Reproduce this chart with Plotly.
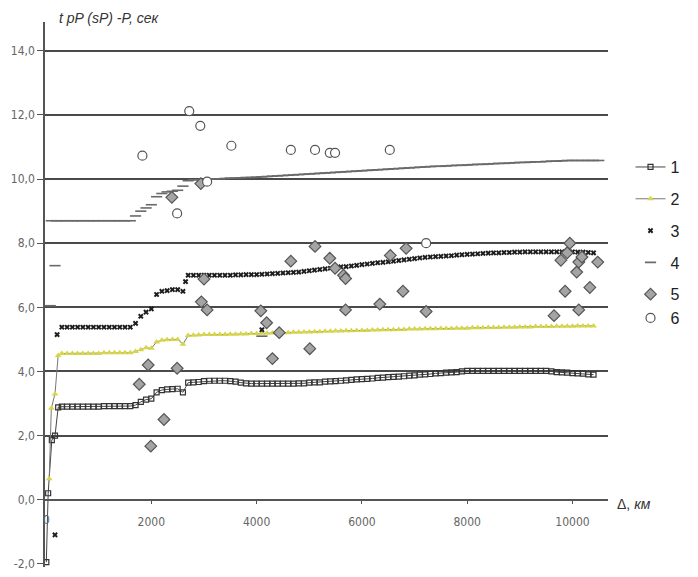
import plotly.graph_objects as go

# ---------------- data ----------------
DIST = [300, 400, 500, 600, 700, 800, 900, 1000,
        1100, 1200, 1300, 1400, 1500, 1600, 1700, 1800, 1900, 2000,
        2100, 2200, 2300, 2400, 2500, 2600, 2700, 2800, 2900, 3000,
        3100, 3200, 3300, 3400, 3500, 3600, 3700, 3800, 3900, 4000,
        4100, 4200, 4300, 4400, 4500, 4600, 4700, 4800, 4900, 5000,
        5100, 5200, 5300, 5400, 5500, 5600, 5700, 5800, 5900, 6000,
        6100, 6200, 6300, 6400, 6500, 6600, 6700, 6800, 6900, 7000,
        7100, 7200, 7300, 7400, 7500, 7600, 7700, 7800, 7900, 8000,
        8100, 8200, 8300, 8400, 8500, 8600, 8700, 8800, 8900, 9000,
        9100, 9200, 9300, 9400, 9500, 9600, 9700, 9800, 9900, 10000,
        10100, 10200, 10300, 10400]

S1_EARLY_X = [5, 40, 110, 170, 230]
S1_EARLY_Y = [-1.95, 0.2, 1.86, 2.0, 2.88]
S1 = [2.90, 2.90, 2.90, 2.90, 2.90, 2.90, 2.90, 2.90,
      2.92, 2.92, 2.92, 2.92, 2.92, 2.92, 2.95, 3.05, 3.12, 3.15,
      3.35, 3.42, 3.44, 3.45, 3.46, 3.35, 3.65, 3.66, 3.67, 3.70,
      3.71, 3.71, 3.71, 3.71, 3.70, 3.68, 3.65, 3.63, 3.62, 3.62,
      3.62, 3.62, 3.62, 3.62, 3.62, 3.62, 3.62, 3.63, 3.63, 3.65,
      3.66, 3.66, 3.68, 3.69, 3.70, 3.71, 3.72, 3.74, 3.75, 3.76,
      3.77, 3.78, 3.80, 3.81, 3.82, 3.83, 3.84, 3.85, 3.87, 3.88,
      3.90, 3.91, 3.92, 3.94, 3.95, 3.96, 3.97, 3.98, 4.00, 4.02,
      4.02, 4.02, 4.02, 4.02, 4.02, 4.02, 4.02, 4.02, 4.02, 4.02,
      4.02, 4.02, 4.02, 4.02, 4.02, 4.00, 3.98, 3.97, 3.96, 3.95,
      3.94, 3.93, 3.91, 3.90]

S2_EARLY_X = [60, 100, 170, 230]
S2_EARLY_Y = [0.65, 2.85, 3.3, 4.5]
S2 = [4.56, 4.56, 4.56, 4.56, 4.56, 4.56, 4.56, 4.56,
      4.58, 4.58, 4.58, 4.58, 4.58, 4.58, 4.62, 4.68, 4.74, 4.72,
      4.92, 4.97, 4.99, 5.00, 5.00, 4.85, 5.12, 5.13, 5.14, 5.15,
      5.15, 5.15, 5.15, 5.15, 5.16, 5.16, 5.17, 5.17, 5.18, 5.18,
      5.19, 5.19, 5.20, 5.20, 5.21, 5.21, 5.22, 5.22, 5.23, 5.23,
      5.24, 5.24, 5.25, 5.25, 5.26, 5.26, 5.27, 5.27, 5.28, 5.28,
      5.28, 5.29, 5.29, 5.30, 5.30, 5.30, 5.31, 5.31, 5.32, 5.32,
      5.32, 5.33, 5.33, 5.33, 5.34, 5.34, 5.34, 5.35, 5.35, 5.35,
      5.36, 5.36, 5.36, 5.37, 5.37, 5.37, 5.38, 5.38, 5.38, 5.39,
      5.39, 5.39, 5.40, 5.40, 5.40, 5.40, 5.41, 5.41, 5.41, 5.41,
      5.42, 5.42, 5.42, 5.42]

S3_EXTRA_X = [170, 210, 2650, 4100]
S3_EXTRA_Y = [-1.1, 5.15, 6.8, 5.3]
S3 = [5.38, 5.38, 5.38, 5.38, 5.38, 5.38, 5.38, 5.38,
      5.38, 5.38, 5.38, 5.38, 5.38, 5.38, 5.50, 5.72, 5.85, 5.95,
      6.40, 6.50, 6.52, 6.55, 6.55, 6.50, 7.00, 7.00, 7.00, 7.00,
      7.00, 7.00, 7.00, 7.00, 7.00, 7.01, 7.01, 7.02, 7.02, 7.02,
      7.03, 7.04, 7.05, 7.06, 7.07, 7.08, 7.09, 7.10, 7.12, 7.14,
      7.16, 7.18, 7.20, 7.22, 7.24, 7.26, 7.27, 7.29, 7.31, 7.33,
      7.35, 7.37, 7.39, 7.40, 7.42, 7.44, 7.46, 7.48, 7.50, 7.52,
      7.54, 7.56, 7.57, 7.58, 7.59, 7.60, 7.61, 7.63, 7.64, 7.65,
      7.66, 7.67, 7.68, 7.69, 7.70, 7.70, 7.71, 7.71, 7.72, 7.72,
      7.73, 7.73, 7.73, 7.73, 7.73, 7.73, 7.73, 7.73, 7.73, 7.73,
      7.72, 7.72, 7.71, 7.70]

S4_EXTRA_X = [80, 100, 170, 200, 4100, 10500]
S4_EXTRA_Y = [6.05, 8.70, 7.30, 8.70, 5.10, 10.58]
S4 = [8.70, 8.70, 8.70, 8.70, 8.70, 8.70, 8.70, 8.70,
      8.70, 8.70, 8.70, 8.70, 8.70, 8.70, 8.85, 9.00, 9.10, 9.20,
      9.45, 9.55, 9.60, 9.62, 9.65, 9.78, 9.95, 9.98, 9.98, 10.00,
      10.00, 10.01, 10.01, 10.02, 10.03, 10.03, 10.04, 10.05, 10.05, 10.06,
      10.07, 10.08, 10.09, 10.10, 10.11, 10.12, 10.13, 10.14, 10.15, 10.16,
      10.17, 10.18, 10.19, 10.20, 10.21, 10.22, 10.23, 10.24, 10.25, 10.26,
      10.27, 10.28, 10.29, 10.30, 10.31, 10.32, 10.33, 10.34, 10.35, 10.36,
      10.37, 10.38, 10.39, 10.40, 10.40, 10.41, 10.42, 10.43, 10.43, 10.44,
      10.45, 10.46, 10.46, 10.47, 10.48, 10.49, 10.49, 10.50, 10.51, 10.52,
      10.52, 10.53, 10.54, 10.54, 10.55, 10.56, 10.56, 10.57, 10.58, 10.58,
      10.58, 10.58, 10.58, 10.58]

S5_X = [1770, 1940, 1990, 2240, 2390, 2490, 2940, 2950, 3000, 3060,
        4080, 4190, 4300, 4430, 4650, 5010, 5110, 5390, 5490, 5650,
        5690, 5690, 6340, 6540, 6780, 6840, 7220, 9650, 9780, 9860,
        9900, 9950, 10080, 10120, 10120, 10180, 10330, 10480]
S5_Y = [3.60, 4.20, 1.67, 2.50, 9.43, 4.10, 9.86, 6.17, 6.88, 5.92,
        5.89, 5.52, 4.40, 5.21, 7.44, 4.71, 7.90, 7.53, 7.22, 7.00,
        6.90, 5.92, 6.10, 7.62, 6.50, 7.84, 5.87, 5.74, 7.47, 6.50,
        7.70, 8.00, 7.10, 7.41, 5.92, 7.57, 6.62, 7.41]

S6_X = [1830, 2490, 2720, 2930, 3060, 3520, 4650, 5110, 5390, 5490, 6530, 7220]
S6_Y = [10.73, 8.93, 12.12, 11.66, 9.92, 11.04, 10.91, 10.91, 10.82, 10.82, 10.91, 8.00]

Y_TICKS = [-2, 0, 2, 4, 6, 8, 10, 12, 14]
Y_TICKTEXT = ["-2,0", "0,0", "2,0", "4,0", "6,0", "8,0", "10,0", "12,0", "14,0"]
Y_GRID = [2, 4, 6, 8, 10, 12, 14]
X_ORIGIN = 0
X_ORIGIN_LABEL = "0"
X_TICKS = [2000, 4000, 6000, 8000, 10000]
X_TICKTEXT = ["2000", "4000", "6000", "8000", "10000"]
X_RANGE = [-20, 10675]
Y_RANGE = [-2.1, 14.9]

# ---------------- figure ----------------
fig = go.Figure()

fig.add_trace(go.Scatter(
    x=S1_EARLY_X + DIST, y=S1_EARLY_Y + S1, name="1", mode="lines+markers",
    line=dict(color="#444444", width=1),
    marker=dict(symbol="square-open", size=5, color="#333333", line=dict(width=1.2)),
    legendgroup="g1", cliponaxis=False))

fig.add_trace(go.Scatter(
    x=S2_EARLY_X + DIST, y=S2_EARLY_Y + S2, name="2", mode="lines+markers",
    line=dict(color="#777777", width=1),
    marker=dict(symbol="triangle-up", size=6, color="#d6d64a", line=dict(width=0)),
    legendgroup="g2", cliponaxis=False))

fig.add_trace(go.Scatter(
    x=S3_EXTRA_X + DIST, y=S3_EXTRA_Y + S3, name="3", mode="markers",
    marker=dict(symbol="x", size=5, color="#1e1e1e", line=dict(width=0)),
    legendgroup="g3", cliponaxis=False))

fig.add_trace(go.Scatter(
    x=S4_EXTRA_X + DIST, y=S4_EXTRA_Y + S4, name="4", mode="markers",
    marker=dict(symbol="line-ew", size=8, color="#6a6a6a",
                line=dict(width=1.6, color="#6a6a6a")),
    legendgroup="g4", cliponaxis=False))

fig.add_trace(go.Scatter(
    x=S5_X, y=S5_Y, name="5", mode="markers",
    marker=dict(symbol="diamond", size=9, color="#a4a4a4",
                line=dict(width=1.2, color="#555555")),
    legendgroup="g5", cliponaxis=False))

fig.add_trace(go.Scatter(
    x=S6_X, y=S6_Y, name="6", mode="markers",
    marker=dict(symbol="circle", size=9, color="white",
                line=dict(width=1.2, color="#555555")),
    legendgroup="g5", cliponaxis=False))

# invisible trace to carry the grid axis
fig.add_trace(go.Scatter(x=[None], y=[None], yaxis="y2", showlegend=False,
                         hoverinfo="skip"))

x_pos = (0 - Y_RANGE[0]) / (Y_RANGE[1] - Y_RANGE[0])
tick_font = dict(family="Liberation Sans Narrow, Arial Narrow, DejaVu Sans Condensed, sans-serif",
                 size=12, color="#666666")

fig.update_layout(
    width=698, height=577,
    margin=dict(l=45, r=90, t=22, b=6),
    paper_bgcolor="white", plot_bgcolor="white",
    separators=", ",
    showlegend=True,
    legend=dict(x=1.04, y=0.765, xanchor="left", yanchor="top",
                font=dict(family="Liberation Sans, Arial, sans-serif", size=16, color="#222222"),
                tracegroupgap=8, itemwidth=30, bgcolor="rgba(0,0,0,0)"),
    xaxis=dict(range=X_RANGE, anchor="free", position=x_pos,
               showline=True, linecolor="#555555", linewidth=1.5,
               ticks="outside", ticklen=4, tickcolor="#555555",
               tickvals=X_TICKS, ticktext=X_TICKTEXT, tickfont=tick_font,
               ticklabelstandoff=7,
               showgrid=False, zeroline=False),
    yaxis=dict(range=Y_RANGE, showline=True, linecolor="#555555", linewidth=1.5,
               ticks="outside", ticklen=6, tickcolor="#555555",
               tickvals=Y_TICKS, ticktext=Y_TICKTEXT, tickfont=tick_font,
               showgrid=False, zeroline=False),
    yaxis2=dict(range=Y_RANGE, overlaying="y", tickvals=Y_GRID,
                showgrid=True, gridcolor="#4a4a4a", gridwidth=1.5,
                showticklabels=False, ticks="", zeroline=False, showline=False),
    annotations=[
        dict(text="<i>t pP (sP) -P, сек</i>", xref="paper", yref="paper",
             x=0.021, y=1.007, xanchor="left", yanchor="middle", showarrow=False,
             font=dict(family="Liberation Sans, Arial, sans-serif", size=14, color="#333333")),
        dict(text="Δ, <i>км</i>", xref="paper", yref="y",
             x=1.012, y=0, xanchor="left", yanchor="middle", yshift=-4, showarrow=False,
             font=dict(family="Liberation Sans, Arial, sans-serif", size=14, color="#333333")),
        dict(text=X_ORIGIN_LABEL, xref="x", yref="y", x=X_ORIGIN, y=0,
             xanchor="center", yanchor="top", yshift=-11, showarrow=False,
             font=tick_font),
    ],
)

fig.write_html("out.html")
